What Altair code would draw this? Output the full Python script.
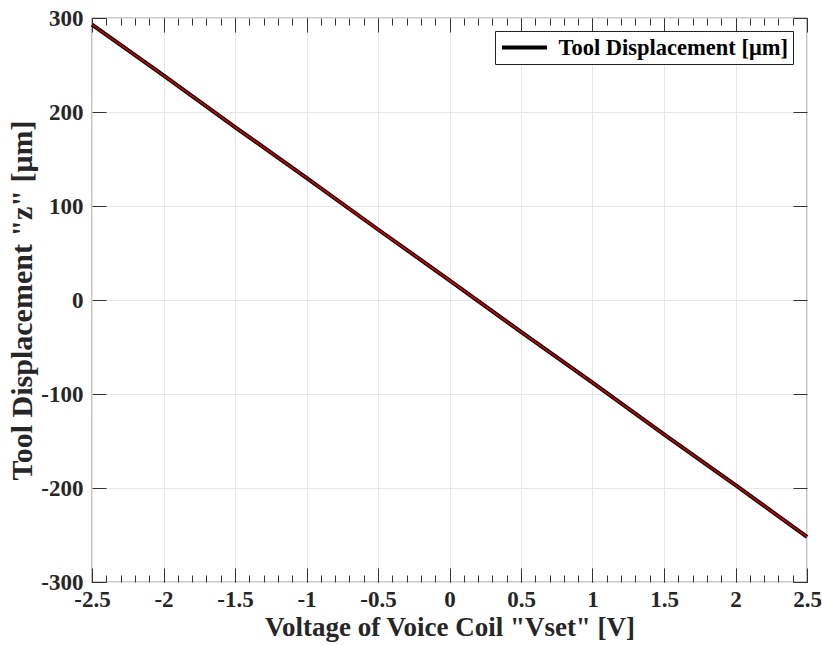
import altair as alt
import pandas as pd

# ---- data ----
voltage = [-2.5, -2.0, -1.5, -1.0, -0.5, 0.0, 0.5, 1.0, 1.5, 2.0, 2.5]
displacement = [293, 239, 184, 130, 75, 21, -34, -88, -143, -197, -252]
series_name = "Tool Displacement [μm]"

x_major = [-2.5, -2.0, -1.5, -1.0, -0.5, 0.0, 0.5, 1.0, 1.5, 2.0, 2.5]
x_minor = [round(-2.5 + 0.1 * i, 1) for i in range(51)]
y_major = [-300, -200, -100, 0, 100, 200, 300]

df = pd.DataFrame({"v": voltage, "z": displacement, "s": [series_name] * len(voltage)})

FONT = "Liberation Serif"
TICK = "#333333"

xs = alt.Scale(domain=[-2.5, 2.5], nice=False, zero=False)
ys = alt.Scale(domain=[-300, 300], nice=False, zero=False)

base = alt.Chart(df)

# main black line with labels, grid and titles
main = base.mark_line(strokeWidth=4, color="black").encode(
    x=alt.X("v:Q", scale=xs, axis=alt.Axis(
        orient="bottom", values=x_major, grid=True, ticks=False, domain=False,
        labelExpr="'' + datum.value", labelPadding=6,
        title='Voltage of Voice Coil "Vset" [V]', titlePadding=3, titleFontSize=27)),
    y=alt.Y("z:Q", scale=ys, axis=alt.Axis(
        orient="left", values=y_major, grid=True, ticks=False, domain=False,
        labelExpr="'' + datum.value", labelPadding=9,
        title='Tool Displacement "z" [μm]', titlePadding=3, titleFontSize=30)),
    color=alt.Color("s:N", scale=alt.Scale(domain=[series_name], range=["black"]),
                    legend=alt.Legend(title=None, orient="none", legendX=403, legendY=13,
                                      symbolType="M-2.25,0L2.25,0", symbolStrokeWidth=4,
                                      symbolSize=400, labelFont=FONT, labelFontSize=22.5,
                                      labelFontWeight="bold", labelColor="black",
                                      labelLimit=600,
                                      strokeColor="#222222", fillColor="white",
                                      padding=4.5, symbolOffset=13, labelOffset=22)),
)

red = base.mark_line(strokeWidth=1.6, color="#d40000").encode(
    x=alt.X("v:Q", scale=xs, axis=alt.Axis(
        orient="bottom", values=x_major, ticks=True, tickSize=14, offset=-14,
        labels=False, domain=False, grid=False, title=None, tickColor=TICK)),
    y=alt.Y("z:Q", scale=ys, axis=alt.Axis(
        orient="left", values=y_major, ticks=True, tickSize=14, offset=-14,
        labels=False, domain=False, grid=False, title=None, tickColor=TICK)),
)

def ghost(xaxis, yaxis):
    return base.mark_line(strokeOpacity=0).encode(
        x=alt.X("v:Q", scale=xs, axis=xaxis),
        y=alt.Y("z:Q", scale=ys, axis=yaxis),
    )

g1 = ghost(alt.Axis(orient="bottom", values=x_minor, ticks=True, tickSize=7, offset=-7,
                    labels=False, domain=False, grid=False, title=None, tickColor=TICK),
           alt.Axis(orient="right", values=y_major, ticks=True, tickSize=14, offset=-14,
                    labels=False, domain=False, grid=False, title=None, tickColor=TICK))
g2 = ghost(alt.Axis(orient="top", values=x_major, ticks=True, tickSize=14, offset=-14,
                    labels=False, domain=False, grid=False, title=None, tickColor=TICK),
           None)
g3 = ghost(alt.Axis(orient="top", values=x_minor, ticks=True, tickSize=7, offset=-7,
                    labels=False, domain=False, grid=False, title=None, tickColor=TICK),
           None)

chart = alt.layer(main, red, g1, g2, g3).resolve_axis(
    x="independent", y="independent"
).properties(
    width=715, height=564,
    autosize=alt.AutoSizeParams(type="none"),
    padding={"left": 92, "top": 18, "right": 15, "bottom": 63},
    background="white",
).configure_view(
    stroke="#333333", strokeWidth=1.2
).configure_axis(
    labelFont=FONT, labelFontSize=23, labelFontWeight="bold", labelColor="#262626",
    titleFont=FONT, titleFontWeight="bold", titleColor="#262626",
    gridColor="#e6e6e6", gridWidth=1, labelBound=False, labelFlush=False,
)

chart.save("out.html", embed_options={"renderer": "svg", "actions": False})
